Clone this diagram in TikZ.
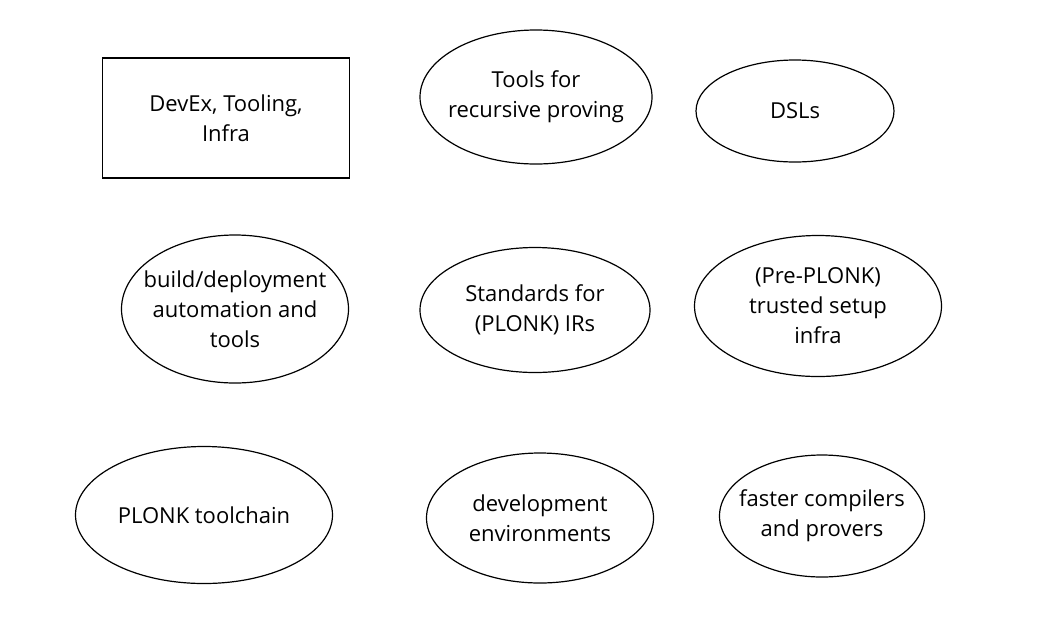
\documentclass[tikz,border=0pt]{standalone}
\usepackage{fontspec}
\setmainfont{Open Sans}
\usetikzlibrary{shapes.geometric}
\tikzset{
  blob/.style={draw,ellipse,line width=1.2pt,inner xsep=-40pt,inner ysep=-15pt,align=center,font=\fontsize{22}{30}\selectfont},
  box/.style={draw,rectangle,line width=1.2pt,inner sep=0pt,align=center,font=\fontsize{22}{30}\selectfont}
}
\begin{document}
\begin{tikzpicture}[x=1pt,y=-1pt]
    \useasboundingbox (0,0) rectangle (1056,638);
    \node[box,minimum width=247pt,minimum height=120pt] (devex) at (226,118) {DevEx, Tooling,\\Infra};
    \node[blob,minimum width=232pt,minimum height=134pt] (recursive) at (536,97) {Tools for\\recursive proving};
    \node[blob,minimum width=198pt,minimum height=102pt] (dsls) at (795,111) {DSLs};
    \node[blob,minimum width=227pt,minimum height=148pt] (build) at (235,309) {build/deployment\\automation and\\tools};
    \node[blob,minimum width=230pt,minimum height=125pt] (standards) at (535,310) {Standards for\\(PLONK) IRs};
    \node[blob,minimum width=247pt,minimum height=141pt] (setup) at (818,306) {(Pre-PLONK)\\trusted setup\\infra};
    \node[blob,minimum width=257pt,minimum height=137pt] (toolchain) at (204,515) {PLONK toolchain};
    \node[blob,minimum width=227pt,minimum height=130pt] (devenv) at (540,518) {development\\environments};
    \node[blob,minimum width=205pt,minimum height=122pt] (faster) at (822,516) {faster compilers\\and provers};
\end{tikzpicture}
\end{document}
